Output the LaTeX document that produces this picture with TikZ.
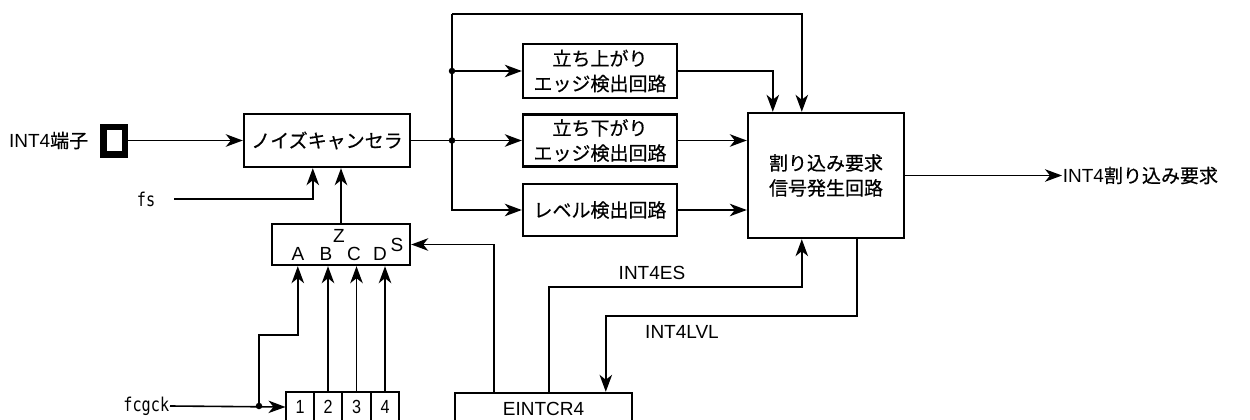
\documentclass[tikz,border=0pt]{standalone}
\usepackage{fontspec}
\setmainfont{Liberation Sans}
\newfontfamily\cjk[FakeBold=0.5]{Noto Sans CJK JP}
\newfontfamily\monof[FakeStretch=0.8]{DejaVu Sans Mono}
\newfontfamily\narrowf[FakeStretch=0.85]{Liberation Sans}
\usetikzlibrary{arrows.meta,calc}
\newcommand\myjp{\cjk\fontsize{19}{25}\selectfont}
\newcommand\mylat{\fontsize{19}{23}\selectfont}
\begin{document}
\begin{tikzpicture}[x=1pt,y=-1pt,
  line width=1.6pt,
  >={Stealth[length=17pt,width=12.5pt,inset=5pt]},
  blk/.style={draw, line width=2.4pt, inner sep=0pt, align=center, font=\myjp},
  cell/.style={draw, line width=1.1pt, inner sep=0pt, minimum width=28pt, minimum height=30pt, font=\narrowf\fontsize{19}{23}\selectfont},
  lat/.style={inner sep=0pt, font=\mylat},
  mono/.style={inner sep=0pt, font=\monof\fontsize{19}{22}\selectfont},
  dot/.style={fill, circle, inner sep=0pt, minimum size=6.5pt}]
\useasboundingbox (0,0) rectangle (1250,420);
\clip (0,0) rectangle (1250,420);

% blocks
\node[draw, line width=6.5pt, inner sep=0pt, minimum width=21.5pt, minimum height=27.5pt] (term) at (114,140.5) {};
\node[lat, anchor=east] (termlbl) at (89,140.5) {INT4{\cjk 端子}};
\node[blk, minimum width=166pt, minimum height=53pt] (nc) at (327,140.5) {ノイズキャンセラ};
\node[blk, minimum width=154pt, minimum height=54pt] (rise) at (600,71) {立ち上がり\\エッジ検出回路};
\node[blk, minimum width=154pt, minimum height=52pt] (fall) at (600,140.5) {立ち下がり\\エッジ検出回路};
\node[blk, minimum width=154pt, minimum height=52pt] (lvl) at (600,210) {レベル検出回路};
\node[blk, minimum width=156pt, minimum height=125pt] (main) at (826,175.5) {割り込み要求\\信号発生回路};
\node[blk, minimum width=138pt, minimum height=41pt] (sel) at (341,244.5) {};
\node[blk, minimum width=177pt, minimum height=32pt, font=\mylat] (eint) at (543.5,409) {EINTCR4};

% selector labels
\node[lat] (lZ) at (339,236) {Z};
\node[lat] (lA) at (298,254) {A};
\node[lat] (lB) at (326,254) {B};
\node[lat] (lC) at (354,254) {C};
\node[lat] (lD) at (380,254) {D};
\node[lat] (lS) at (397,245) {S};

% counter cells
\node[cell] (c1) at (300,407) {1};
\node[cell] (c2) at (328,407) {2};
\node[cell] (c3) at (356.5,407) {3};
\node[cell] (c4) at (385,407) {4};

% text labels
\node[mono, anchor=east] (fs) at (156,199) {fs};
\node[mono, anchor=east] (fcg) at (170,406) {fcgck};
\node[lat, anchor=west] (outl) at (1062,175.5) {INT4{\cjk 割り込み要求}};
\node[lat] (les) at (652,273) {INT4ES};
\node[lat] (llv) at (682,332) {INT4LVL};

% coordinates
\coordinate (tl) at (452,14);
\coordinate (j1) at (452,71);
\coordinate (j2) at (452,140.5);
\coordinate (mA) at ($(main.north west)+(26,0)$);
\coordinate (mB) at ($(main.north west)+(55,0)$);
\coordinate (mC) at ($(main.south west)+(55,0)$);
\coordinate (mD) at ($(main.south west)+(110,0)$);
\coordinate (eS) at ($(eint.north west)+(40,0)$);
\coordinate (eES) at ($(eint.north west)+(95,0)$);
\coordinate (eLV) at ($(eint.north west)+(152,0)$);
\coordinate (fsS) at (174,199);
\coordinate (nF) at ($(nc.south west)+(70,0)$);
\coordinate (dA) at (259,406);
\coordinate (aA) at ($(sel.south west)+(27,0)$);

% connectors
\draw[->] (term.east) -- (nc.west);
\draw (nc.east) -- (j2);
\draw[->] (fsS) -| (nF);
\draw[->] (sel.north) -- (sel.north |- nc.south);
\draw[->] (j1) -- (rise.west);
\draw[->] (j2) -- (fall.west);
\draw[->] (tl) |- (lvl.west);
\draw[->] (tl) -| (mB);
\draw[->] (rise.east) -| (mA);
\draw[->] (fall.east) -- (fall.east -| main.west);
\draw[->] (lvl.east) -- (lvl.east -| main.west);
\draw[->] (main.east) -- (outl.west);
\draw[->] (eS) |- (sel.east);
\draw[->] (eES) |- ($(mC)+(0,48)$) -- (mC);
\draw[->] (mD) |- ($(eLV)+(0,-76)$) -- (eLV);
\draw[->] (fcg.east) -- (c1.west);
\draw[->] (dA) -- ++(0,-71) -| (aA);
\draw[->] (c2.north) -- (c2.north |- sel.south);
\draw[->] (c3.north) -- (c3.north |- sel.south);
\draw[->] (c4.north) -- (c4.north |- sel.south);
\node[dot] (d1) at (j1) {};
\node[dot] (d2) at (j2) {};
\node[dot] (d3) at (dA) {};
\end{tikzpicture}
\end{document}
